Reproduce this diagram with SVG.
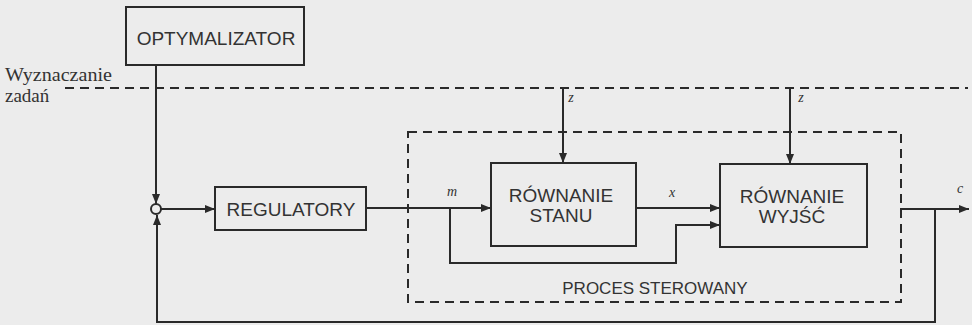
<svg xmlns="http://www.w3.org/2000/svg" width="972" height="325" viewBox="0 0 972 325">
<style>
.box{fill:none;stroke:#2a2a2a;stroke-width:2}
.ln{fill:none;stroke:#2a2a2a;stroke-width:2}
.dash{fill:none;stroke:#2a2a2a;stroke-width:2;stroke-dasharray:9,6}
.lbl{font-family:"Liberation Sans",Arial,sans-serif;font-size:19px;fill:#333;text-anchor:middle}
.it{font-family:"Liberation Serif","Times New Roman",serif;font-style:italic;font-size:14px;fill:#333;text-anchor:middle}
.sr{font-family:"Liberation Serif","Times New Roman",serif;font-size:19px;fill:#333}
</style>
<defs>
<marker id="ah" viewBox="0 0 10 8" refX="10" refY="4" markerWidth="10" markerHeight="8" markerUnits="userSpaceOnUse" orient="auto">
<path d="M0,0 L10,4 L0,8 z" fill="#2a2a2a"/>
</marker>
</defs>
<rect x="0" y="0" width="972" height="325" fill="#ececec"/>
<g id="labels">
<text class="sr" x="5" y="81" textLength="107" lengthAdjust="spacingAndGlyphs">Wyznaczanie</text>
<text class="sr" x="5" y="102">zadań</text>
</g>
<g id="proces">
<rect class="dash" x="408" y="132" width="493" height="170"/>
<text class="lbl" x="655" y="294" style="font-size:17px">PROCES STEROWANY</text>
</g>
<g id="connectors">
<line class="dash" x1="65" y1="88" x2="968" y2="88"/>
<line class="ln" x1="156" y1="65" x2="156" y2="204" marker-end="url(#ah)"/>
<line class="ln" x1="161" y1="209" x2="215" y2="209" marker-end="url(#ah)"/>
<line class="ln" x1="366" y1="208" x2="491" y2="208" marker-end="url(#ah)"/>
<polyline class="ln" points="450,208 450,263 676,263 676,225 720,225" marker-end="url(#ah)"/>
<line class="ln" x1="636" y1="208" x2="720" y2="208" marker-end="url(#ah)"/>
<line class="ln" x1="563" y1="88" x2="563" y2="163" marker-end="url(#ah)"/>
<line class="ln" x1="790" y1="88" x2="790" y2="164" marker-end="url(#ah)"/>
<line class="ln" x1="900" y1="209" x2="969" y2="209" marker-end="url(#ah)"/>
<polyline class="ln" points="935,209 935,322 157,322 157,215" marker-end="url(#ah)"/>
<text class="it" x="452" y="196">m</text>
<text class="it" x="672" y="197">x</text>
<text class="it" x="571" y="102">z</text>
<text class="it" x="801" y="102">z</text>
<text class="it" x="960" y="193">c</text>
</g>
<g id="sum">
<circle cx="156" cy="209" r="5" fill="#ececec" stroke="#2a2a2a" stroke-width="2"/>
</g>
<g id="optymalizator">
<rect class="box" x="126" y="7" width="178" height="58"/>
<text class="lbl" x="216" y="45">OPTYMALIZATOR</text>
</g>
<g id="regulatory">
<rect class="box" x="215" y="187" width="151" height="43"/>
<text class="lbl" x="291" y="216">REGULATORY</text>
</g>
<g id="rownanie-stanu">
<rect class="box" x="491" y="163" width="145" height="83"/>
<text class="lbl" x="561" y="202">RÓWNANIE</text>
<text class="lbl" x="561" y="222">STANU</text>
</g>
<g id="rownanie-wyjsc">
<rect class="box" x="720" y="164" width="147" height="83"/>
<text class="lbl" x="792" y="203">RÓWNANIE</text>
<text class="lbl" x="792" y="223">WYJŚĆ</text>
</g>
</svg>
